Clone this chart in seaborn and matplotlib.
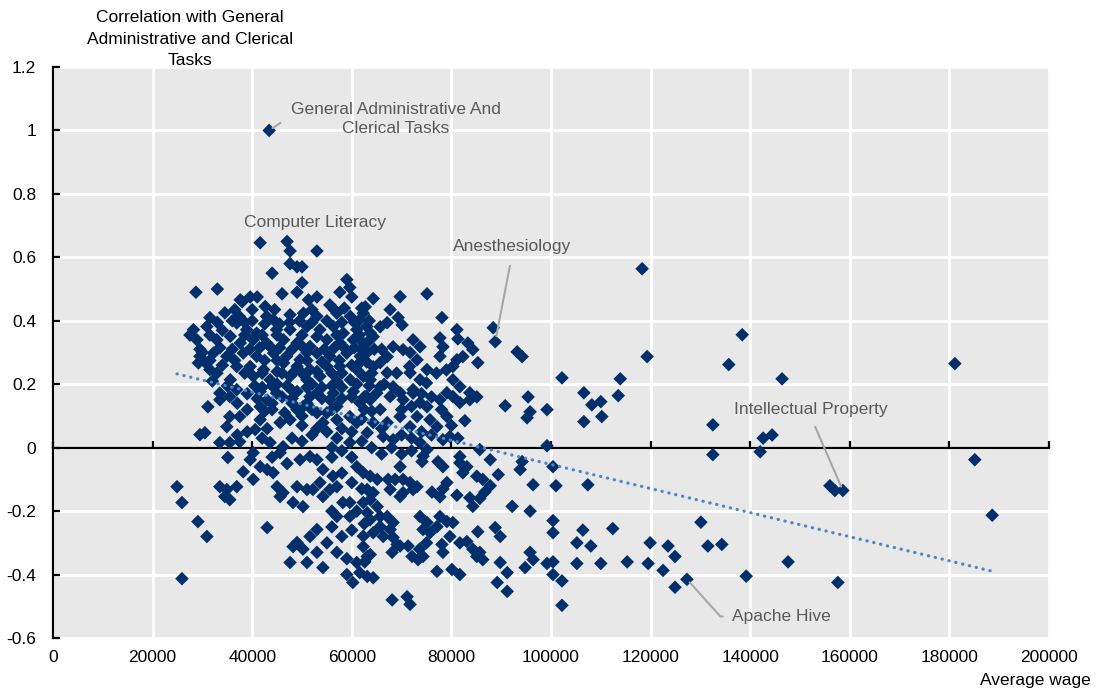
import numpy as np
import pandas as pd
import matplotlib
matplotlib.use("Agg")
import matplotlib.pyplot as plt
import seaborn as sns

# ---------------------------------------------------------------------------
# Data: skills by average wage (thousands of USD) and correlation with
# "General Administrative and Clerical Tasks"
# ---------------------------------------------------------------------------
upper_cluster = [
    (47.0, 0.65), (47.6, 0.62), (53.0, 0.62), (47.6, 0.58), (49.0, 0.57), (50.0, 0.57),
    (44.0, 0.55), (50.0, 0.52), (59.0, 0.53), (28.7, 0.49), (33.0, 0.50), (46.0, 0.485),
    (49.0, 0.49), (53.0, 0.475), (55.6, 0.45), (57.6, 0.49), (59.6, 0.505), (60.0, 0.475),
    (62.0, 0.44), (39.6, 0.475), (41.0, 0.475), (38.0, 0.46), (31.5, 0.41), (34.5, 0.425),
    (37.6, 0.466), (42.6, 0.445), (51.3, 0.466),
    (37.4, 0.414), (42.9, 0.414), (44.3, 0.403), (47.6, 0.419), (50.3, 0.424), (53.0, 0.414),
    (57.0, 0.424), (59.7, 0.414), (62.3, 0.424),
    (28.2, 0.372), (30.9, 0.382), (36.9, 0.393), (38.9, 0.372), (40.9, 0.361), (44.9, 0.372),
    (47.6, 0.372), (51.0, 0.382), (53.6, 0.372), (56.3, 0.382), (58.3, 0.361), (61.0, 0.372),
    (63.0, 0.382),
    (28.9, 0.34), (32.9, 0.34), (35.6, 0.351), (37.6, 0.33), (40.2, 0.34), (42.9, 0.33),
    (46.3, 0.34), (49.0, 0.33), (51.6, 0.319), (55.0, 0.34), (57.6, 0.33), (60.3, 0.34),
    (63.0, 0.33),
    (29.5, 0.288), (32.2, 0.298), (34.9, 0.288), (38.2, 0.298), (40.9, 0.288), (44.3, 0.298),
    (46.9, 0.288), (49.6, 0.277), (53.0, 0.298), (55.6, 0.288), (59.0, 0.298), (61.7, 0.288),
    (29.2, 0.267), (31.5, 0.246), (36.9, 0.256), (39.6, 0.256), (42.3, 0.246), (46.3, 0.267),
    (49.0, 0.256), (51.6, 0.246), (55.0, 0.256), (57.6, 0.256), (61.0, 0.246),
    (32.9, 0.235), (35.6, 0.214), (40.2, 0.225), (43.6, 0.214), (47.6, 0.225), (51.0, 0.214),
    (53.6, 0.225), (57.0, 0.209), (59.7, 0.214), (62.3, 0.225),
    (33.5, 0.172), (36.9, 0.183), (41.6, 0.177), (44.9, 0.172), (49.0, 0.177), (53.0, 0.172),
    (56.3, 0.172), (60.3, 0.177),
    (27.5, 0.355), (29.5, 0.31), (30.5, 0.27), (32.0, 0.21), (30.0, 0.30),
    (48.0, 0.18), (54.0, 0.19), (58.0, 0.19), (61.0, 0.20), (52.0, 0.20), (45.0, 0.20),
    (42.0, 0.19), (39.0, 0.17),
    (36.0, 0.31), (39.5, 0.31), (43.5, 0.32), (48.0, 0.31), (51.0, 0.30), (54.5, 0.31),
    (58.5, 0.315), (62.0, 0.31), (36.0, 0.40), (40.0, 0.40), (45.5, 0.39), (49.5, 0.40),
    (55.0, 0.40), (60.5, 0.395), (34.0, 0.37), (34.0, 0.26), (45.0, 0.24), (48.5, 0.24),
    (56.0, 0.235), (60.0, 0.26), (64.5, 0.31),
    (64.3, 0.47), (62.7, 0.444), (69.7, 0.476), (75.1, 0.485), (67.7, 0.435), (69.3, 0.41),
    (70.1, 0.387), (67.1, 0.394), (65.7, 0.381), (64.3, 0.35), (61.6, 0.403), (78.1, 0.41),
    (81.1, 0.372), (88.4, 0.378), (93.2, 0.302), (94.2, 0.287), (78.3, 0.318), (83.3, 0.33),
    (84.3, 0.309), (82.3, 0.287), (81.1, 0.277), (85.3, 0.268), (72.3, 0.34), (73.7, 0.318),
    (71.7, 0.30), (73.1, 0.277), (75.1, 0.246), (73.7, 0.214), (71.7, 0.236), (68.3, 0.318),
    (67.1, 0.287), (65.7, 0.268), (64.3, 0.255), (67.1, 0.236), (65.7, 0.192), (63.7, 0.214),
    (68.3, 0.192), (69.7, 0.173), (63.7, 0.362), (62.3, 0.33), (63.1, 0.30), (61.6, 0.268),
    (80.3, 0.214), (81.7, 0.192), (83.7, 0.173), (85.1, 0.16), (79.1, 0.173),
    (70.3, 0.309), (71.6, 0.256), (69.0, 0.235), (75.0, 0.204), (77.0, 0.235), (72.3, 0.172),
    (62.9, 0.162), (65.0, 0.172), (79.0, 0.245), (77.7, 0.288), (80.3, 0.256), (77.7, 0.346),
    (81.3, 0.343),
]

# The solid core of the cloud between 35k and 65k
upper_core = [
    (36.5, 0.435), (40.0, 0.435), (44.5, 0.435), (52.0, 0.435), (56.5, 0.435), (58.5, 0.44),
    (33.0, 0.395), (38.5, 0.395), (42.5, 0.39), (47.5, 0.395), (52.0, 0.395), (58.0, 0.395),
    (63.5, 0.40),
    (31.5, 0.355), (38.5, 0.355), (42.0, 0.355), (45.0, 0.355), (50.0, 0.355), (53.0, 0.35),
    (57.0, 0.355), (61.5, 0.355),
    (33.5, 0.315), (41.5, 0.315), (45.5, 0.315), (50.0, 0.32), (56.5, 0.315), (60.5, 0.315),
    (66.0, 0.31),
    (31.5, 0.275), (36.5, 0.275), (42.5, 0.275), (45.0, 0.275), (51.0, 0.275), (54.0, 0.27),
    (57.5, 0.275), (63.0, 0.27),
    (38.5, 0.235), (42.0, 0.235), (46.0, 0.235), (50.0, 0.235), (53.0, 0.24), (58.0, 0.235),
    (64.0, 0.235),
    (35.0, 0.195), (40.5, 0.195), (44.0, 0.195), (47.0, 0.195), (51.0, 0.19), (56.0, 0.195),
    (63.5, 0.195), (66.5, 0.20),
    (41.0, 0.155), (43.0, 0.15), (48.0, 0.155), (51.0, 0.14), (54.0, 0.155), (58.0, 0.155),
    (60.0, 0.16),
    (44.0, 0.12), (49.0, 0.12), (56.0, 0.12), (64.0, 0.115),
]

middle_band = [
    (95.8, 0.113), (95.2, 0.094), (90.8, 0.132), (82.7, 0.085), (81.3, 0.03), (85.7, -0.006),
    (87.8, -0.038), (94.2, -0.044), (93.8, -0.069), (89.4, -0.085), (81.7, -0.028),
    (83.1, -0.06), (82.3, -0.079), (85.1, -0.09), (77.3, -0.044), (78.3, -0.06), (74.1, -0.044),
    (69.7, -0.06), (62.3, -0.079), (63.7, -0.09),
    (95.4, 0.16), (63.7, 0.151), (65.7, 0.12), (67.7, 0.161), (70.3, 0.151), (72.3, 0.183),
    (73.7, 0.142), (75.1, 0.129), (75.7, 0.088), (77.7, 0.151), (77.1, 0.066), (79.1, 0.098),
    (73.1, 0.098), (69.7, 0.098), (67.1, 0.079), (64.3, 0.079), (63.1, 0.047), (66.3, 0.035),
    (68.3, 0.025), (71.7, 0.066), (73.7, 0.016), (75.1, -0.006), (78.3, 0.025), (79.7, 0.035),
    (80.3, 0.161), (81.7, 0.142), (83.7, 0.151),
    (70.0, 0.12), (72.0, 0.13), (74.0, 0.17), (76.0, 0.16), (78.0, 0.12), (66.0, 0.06),
    (70.0, 0.04), (72.0, 0.03), (76.0, 0.04), (68.0, 0.0), (70.0, -0.02), (72.0, -0.01),
    (74.0, 0.05), (80.0, 0.07), (62.5, 0.12), (64.0, 0.0), (66.0, -0.02), (74.3, -0.027),
    (81.7, -0.048),
    (29.5, 0.041), (30.5, 0.047), (31.1, 0.129), (34.9, 0.066), (35.5, 0.098), (37.5, 0.098),
    (33.5, 0.016), (35.5, 0.016), (37.5, 0.019), (35.1, -0.031), (38.2, -0.076), (40.2, -0.10),
    (39.6, -0.038), (40.2, -0.016), (41.6, 0.129), (40.6, 0.057), (41.6, 0.088), (43.6, 0.016),
    (45.6, 0.079), (46.2, 0.003), (45.6, -0.016), (47.6, 0.088), (41.6, -0.06), (43.0, -0.069),
    (44.2, -0.079), (49.6, -0.038), (51.6, -0.028), (53.0, -0.038), (54.2, -0.069),
    (56.2, -0.09),
    (33.5, 0.151), (35.5, 0.161), (42.5, 0.115), (46.5, 0.11), (50.2, 0.129), (53.0, 0.11),
    (51.6, 0.161), (55.6, 0.151), (54.2, 0.079), (57.0, 0.088), (59.6, 0.098), (61.6, 0.142),
    (61.0, 0.079), (59.6, 0.016),
    (55.0, 0.05), (57.0, 0.03), (58.0, -0.01), (60.0, -0.03), (61.0, -0.06), (62.0, 0.02),
    (56.0, -0.03), (52.0, 0.04), (50.0, 0.07), (48.0, 0.03), (47.0, -0.05), (58.0, -0.08),
    (44.0, -0.03), (42.0, 0.03), (39.0, 0.05), (37.0, 0.04),
    (48.0, 0.14), (50.0, 0.10), (52.0, 0.12), (55.0, 0.11), (57.0, 0.13), (58.0, 0.06),
    (60.0, 0.05), (62.0, 0.09), (44.0, 0.14), (46.0, 0.16), (43.0, 0.06), (53.0, 0.06),
    (56.0, 0.0), (50.0, 0.02), (62.5, 0.16), (37.0, 0.14), (39.0, 0.12),
]

lower_cluster = [
    (24.9, -0.123), (25.9, -0.173), (29.1, -0.233), (30.9, -0.28), (25.9, -0.413),
    (33.5, -0.123), (34.9, -0.132), (35.5, -0.164), (36.9, -0.123), (34.5, -0.154),
    (43.0, -0.252),
    (45.0, -0.123), (46.2, -0.142), (45.6, -0.154), (49.0, -0.123), (48.2, -0.173),
    (50.2, -0.186), (51.0, -0.132), (53.6, -0.11), (52.2, -0.132), (54.2, -0.154),
    (55.6, -0.132), (57.0, -0.123), (58.2, -0.173), (59.6, -0.173), (59.6, -0.217),
    (57.0, -0.217), (53.0, -0.258), (51.6, -0.28), (49.0, -0.299), (48.2, -0.312),
    (50.2, -0.32), (47.6, -0.362), (51.0, -0.362), (54.2, -0.378), (59.0, -0.40),
    (60.2, -0.425), (61.6, -0.394), (61.0, -0.362), (62.3, -0.312), (63.1, -0.343),
    (60.0, -0.11), (62.0, -0.13), (61.0, -0.20), (62.5, -0.24), (60.0, -0.26), (58.0, -0.28),
    (56.0, -0.25), (55.0, -0.30), (57.0, -0.33), (59.0, -0.35), (53.0, -0.33), (56.0, -0.20),
    (96.4, -0.117), (86.3, -0.10), (87.8, -0.12), (86.7, -0.14), (85.7, -0.16),
    (84.3, -0.185), (83.7, -0.158), (92.2, -0.185), (95.8, -0.20), (81.1, -0.15),
    (79.1, -0.11), (78.3, -0.13), (76.1, -0.14), (77.7, -0.155), (68.7, -0.10), (70.3, -0.10),
    (71.7, -0.11), (73.1, -0.123), (70.3, -0.142), (69.7, -0.154), (72.3, -0.132),
    (67.3, -0.10), (67.7, -0.132), (73.7, -0.217), (75.1, -0.236), (74.3, -0.258),
    (77.7, -0.217), (79.1, -0.233), (80.3, -0.236), (77.1, -0.249), (75.7, -0.268),
    (79.7, -0.28), (81.7, -0.30), (83.1, -0.296), (85.3, -0.265), (88.8, -0.252),
    (89.8, -0.28), (84.3, -0.32), (85.7, -0.33), (86.3, -0.353), (85.1, -0.343),
    (89.8, -0.362), (91.2, -0.394), (94.8, -0.378), (95.8, -0.33), (96.4, -0.353),
    (89.2, -0.425), (91.2, -0.453), (77.1, -0.39), (80.1, -0.384), (81.7, -0.40),
    (78.1, -0.305), (78.3, -0.33), (68.1, -0.33), (69.7, -0.31), (71.3, -0.31),
    (72.1, -0.343), (73.3, -0.353), (74.3, -0.343), (63.7, -0.337), (63.1, -0.406),
    (64.3, -0.41), (68.1, -0.48), (71.1, -0.47), (71.7, -0.494), (65.7, -0.217),
    (67.1, -0.217), (68.3, -0.236), (67.7, -0.258), (65.7, -0.249), (63.7, -0.227),
    (63.1, -0.205), (64.3, -0.268), (66.3, -0.28), (68.3, -0.283), (69.1, -0.305),
    (63.1, -0.132), (64.3, -0.142), (63.7, -0.164), (62.3, -0.173), (65.1, -0.186),
    (65.1, -0.10), (62.3, -0.279), (62.6, -0.36), (75.0, -0.30), (73.6, -0.32),
]

right_tail = [
    (118.3, 0.564), (138.4, 0.356), (119.3, 0.287), (135.7, 0.262), (181.1, 0.265),
    (102.2, 0.22), (113.9, 0.217), (146.4, 0.217), (106.6, 0.173), (113.5, 0.164),
    (108.2, 0.135), (110.0, 0.145), (99.2, 0.12), (106.6, 0.082), (110.2, 0.098),
    (132.5, 0.072), (142.6, 0.03), (144.4, 0.04), (99.2, 0.006), (142.0, -0.013),
    (132.5, -0.022), (185.1, -0.038), (100.4, -0.06), (101.0, -0.12), (107.4, -0.117),
    (156.0, -0.12), (157.0, -0.135), (188.6, -0.213), (100.4, -0.23), (100.4, -0.268),
    (106.4, -0.26), (112.4, -0.255), (130.1, -0.235), (105.2, -0.30), (108.0, -0.31),
    (119.9, -0.30), (123.5, -0.31), (124.9, -0.343), (131.5, -0.31), (134.3, -0.305),
    (99.2, -0.365), (100.4, -0.36), (105.2, -0.365), (110.0, -0.365), (115.3, -0.36),
    (119.5, -0.365), (147.6, -0.36), (122.5, -0.387), (100.4, -0.40), (102.2, -0.42),
    (124.9, -0.44), (139.2, -0.405), (157.6, -0.425), (102.2, -0.497),
]

# Skills named on the chart
skill_names = ["General Administrative And\nClerical Tasks", "Computer Literacy",
               "Anesthesiology", "Intellectual Property", "Apache Hive"]
skill_wage_k = [43.4, 41.6, 88.8, 158.6, 127.3]
skill_corr = [1.0, 0.646, 0.334, -0.135, -0.415]

y_ticks = [-0.6, -0.4, -0.2, 0, 0.2, 0.4, 0.6, 0.8, 1, 1.2]
y_tick_labels = ["-0.6", "-0.4", "-0.2", "0", "0.2", "0.4", "0.6", "0.8", "1", "1.2"]
x_ticks = [0, 20000, 40000, 60000, 80000, 100000, 120000, 140000, 160000, 180000, 200000]
x_tick_labels = [str(v) for v in x_ticks]

y_title = "Correlation with General\nAdministrative and Clerical\nTasks"
x_title = "Average wage"

# ---------------------------------------------------------------------------
points = upper_cluster + upper_core + middle_band + lower_cluster + right_tail
points += list(zip(skill_wage_k, skill_corr))
df = pd.DataFrame(points, columns=["wage_k", "corr"])
df["wage"] = df["wage_k"] * 1000

NAVY = "#002f6c"
TREND = "#4f86c6"
LABEL = "#595959"
LEADER = "#a6a6a6"

sns.set_style("darkgrid", {"axes.facecolor": "#e8e8e8", "grid.color": "white"})
plt.rcParams["font.family"] = ["Liberation Sans Narrow", "Liberation Sans", "DejaVu Sans"]

W, H = 1097, 693
fig = plt.figure(figsize=(W / 100, H / 100), dpi=100)
fig.patch.set_facecolor("white")
ax = fig.add_axes([53 / W, 55 / H, 996 / W, 571 / H])

sns.scatterplot(data=df, x="wage", y="corr", marker="D", s=48, color=NAVY,
                edgecolor="none", linewidth=0, ax=ax, zorder=3, legend=False)

# Linear trend fitted over the observed wage range
coef = np.polyfit(df["wage"], df["corr"], 1)
xs = np.array([df["wage"].min(), df["wage"].max()])
ax.plot(xs, np.polyval(coef, xs), color=TREND, lw=2.3, linestyle=(0, (0.1, 2.1)),
        dash_capstyle="round", zorder=4)

ax.set_xlim(0, 200000)
ax.set_ylim(-0.6, 1.2)
ax.set_xticks(x_ticks)
ax.set_yticks(y_ticks)
ax.set_yticklabels(y_tick_labels)
ax.set_xlabel("")
ax.set_ylabel("")
ax.grid(True, color="white", lw=2)
ax.set_axisbelow(True)

for side in ["top", "right"]:
    ax.spines[side].set_visible(False)
for side in ["left", "bottom"]:
    ax.spines[side].set_visible(True)
    ax.spines[side].set_color("black")
    ax.spines[side].set_linewidth(1.6)
    ax.spines[side].set_zorder(2.6)
ax.spines["bottom"].set_position(("data", 0))

ax.tick_params(axis="y", direction="in", length=5, width=1.6, pad=12,
               labelsize=12.5, colors="black", left=True)
ax.tick_params(axis="x", direction="in", length=5, width=1.6, bottom=True,
               labelbottom=False, colors="black")

sec = ax.secondary_xaxis("bottom")
sec.set_xticks(x_ticks)
sec.set_xticklabels(x_tick_labels)
sec.spines["bottom"].set_visible(False)
sec.tick_params(length=0, pad=9, labelsize=12.5, colors="black")

# Axis titles
fig.text(190 / W, 1 - 10 / H, y_title, ha="center", va="top", fontsize=12.5,
         linespacing=1.55, color="black")
fig.text(1035 / W, 1 - 681 / H, x_title, ha="center", va="center", fontsize=12.5,
         color="black")

# Labels for selected skills
label_style = dict(fontsize=12.5, color=LABEL, ha="center", va="center", zorder=6)
ax.annotate(skill_names[0], xy=(skill_wage_k[0] * 1000, skill_corr[0]),
            xytext=(68900, 1.036), multialignment="center", linespacing=1.3,
            arrowprops=dict(arrowstyle="-", color=LEADER, lw=1.5, relpos=(0, 0.5),
                            shrinkA=6, shrinkB=3,
                            connectionstyle="angle,angleA=0,angleB=34,rad=0"),
            **label_style)
ax.text(52600, 0.709, skill_names[1], **label_style)
ax.annotate(skill_names[2], xy=(skill_wage_k[2] * 1000, skill_corr[2]),
            xytext=(92200, 0.633),
            arrowprops=dict(arrowstyle="-", color=LEADER, lw=1.5, relpos=(0.5, 0),
                            shrinkA=6, shrinkB=4),
            **label_style)
ax.annotate(skill_names[3], xy=(skill_wage_k[3] * 1000, skill_corr[3]),
            xytext=(152200, 0.12),
            arrowprops=dict(arrowstyle="-", color=LEADER, lw=1.5, relpos=(0.5, 0),
                            shrinkA=5, shrinkB=3),
            **label_style)
ax.annotate(skill_names[4], xy=(skill_wage_k[4] * 1000, skill_corr[4]),
            xytext=(146200, -0.532),
            arrowprops=dict(arrowstyle="-", color=LEADER, lw=1.5, relpos=(0, 0.5),
                            shrinkA=4, shrinkB=3,
                            connectionstyle="angle,angleA=0,angleB=-48,rad=0"),
            **label_style)

fig.savefig("out.png", dpi=100, facecolor="white")
